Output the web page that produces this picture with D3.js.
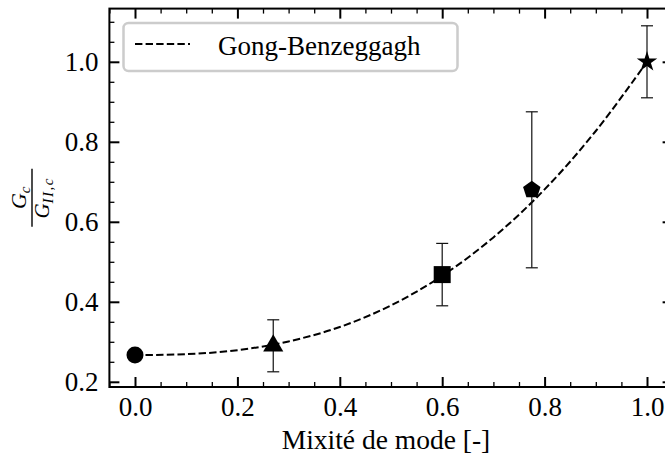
<!DOCTYPE html>
<html lang="fr">
<head>
<meta charset="UTF-8">
<title>Gong-Benzeggagh</title>
<style>
  html, body { margin: 0; padding: 0; background: #fff; overflow: hidden; }
  svg text { font-family: "Liberation Serif", "DejaVu Serif", serif; fill: #000; }
</style>
</head>
<body>
<svg id="chart" width="665" height="454"></svg>
<script src="https://cdn.jsdelivr.net/npm/d3@7"></script>
<script>
const mixite = [0.0, 0.27, 0.6, 0.775, 1.0];
const ratio = [0.267, 0.29, 0.468, 0.68, 1.0];
const erreur = [0, 0.065, 0.078, 0.195, 0.09];
const marqueurs = ["circle", "triangle", "square", "pentagon", "star"];

// courbe Gong-Benzeggagh
const gbX = [0.0, 0.1, 0.2, 0.3, 0.4, 0.5, 0.6, 0.7, 0.8, 0.9, 1.0];
const gbY = [0.267, 0.269, 0.279, 0.301, 0.337, 0.391, 0.465, 0.561, 0.681, 0.827, 1.0];

const xTicks = [0.0, 0.2, 0.4, 0.6, 0.8, 1.0];
const xMinor = [-0.05, 0.05, 0.1, 0.15, 0.25, 0.3, 0.35, 0.45, 0.5, 0.55, 0.65, 0.7, 0.75, 0.85, 0.9, 0.95, 1.05];
const yTicks = [0.2, 0.4, 0.6, 0.8, 1.0];
const yMinor = [0.25, 0.3, 0.35, 0.45, 0.5, 0.55, 0.65, 0.7, 0.75, 0.85, 0.9, 0.95, 1.05, 1.1];

const bordG = 109.4, bordD = 672.6, bordH = 8.6, bordB = 387;
const svg = d3.select("#chart");

const x = d3.scaleLinear().domain([-0.05, 1.05]).range([bordG, bordD]);
const y = d3.scaleLinear().domain([0.187, 1.133]).range([bordB, bordH]);

// axes (ticks vers l'intérieur, sur les 4 côtés)
function axe(gen, scale, values, size, fmt, tr, pad) {
    const g = svg.append("g").attr("transform", tr)
        .call(gen(scale).tickValues(values).tickSize(-size).tickSizeOuter(0)
            .tickPadding(pad || 3).tickFormat(fmt || ""));
    g.select(".domain").remove();
    g.selectAll(".tick line").attr("stroke", "#000").attr("stroke-width", size > 6 ? 2 : 1.3);
    g.selectAll(".tick text").style("font-size", "27px");
    return g;
}
const f = d3.format(".1f");
axe(d3.axisBottom, x, xTicks, 10, f, `translate(0,${bordB})`, 10);
axe(d3.axisBottom, x, xMinor, 5, null, `translate(0,${bordB})`);
axe(d3.axisTop, x, xTicks, 10, null, `translate(0,${bordH})`);
axe(d3.axisTop, x, xMinor, 5, null, `translate(0,${bordH})`);
axe(d3.axisLeft, y, yTicks, 10, f, `translate(${bordG},0)`, 11);
axe(d3.axisLeft, y, yMinor, 5, null, `translate(${bordG},0)`);
axe(d3.axisRight, y, yTicks, 10, null, `translate(${bordD},0)`);
axe(d3.axisRight, y, yMinor, 5, null, `translate(${bordD},0)`);

svg.append("rect")
    .attr("x", bordG).attr("y", bordH)
    .attr("width", bordD - bordG).attr("height", bordB - bordH)
    .attr("fill", "none").attr("stroke", "#000").attr("stroke-width", 2);

// courbe
const line = d3.line().x((d, i) => x(gbX[i])).y(d => y(d)).curve(d3.curveCatmullRom);
svg.append("path")
    .attr("d", line(gbY))
    .attr("fill", "none").attr("stroke", "#000")
    .attr("stroke-width", 2).attr("stroke-dasharray", "7.4,3.2");

// barres d'erreur
const eb = svg.append("g").attr("stroke", "#111").attr("stroke-width", 1.2);
mixite.forEach((m, i) => {
    if (!erreur[i]) return;
    const cx = x(m), y0 = y(ratio[i] - erreur[i]), y1 = y(ratio[i] + erreur[i]);
    eb.append("line").attr("x1", cx).attr("x2", cx).attr("y1", y0).attr("y2", y1);
    eb.append("line").attr("x1", cx - 6).attr("x2", cx + 6).attr("y1", y0).attr("y2", y0);
    eb.append("line").attr("x1", cx - 6).attr("x2", cx + 6).attr("y1", y1).attr("y2", y1);
});

// pentagone
const symbolPentagon = {
    draw(ctx, size) {
        const r = Math.sqrt(size / 2.3776);
        for (let k = 0; k < 5; k++) {
            const a = -Math.PI / 2 + k * 2 * Math.PI / 5;
            k ? ctx.lineTo(r * Math.cos(a), r * Math.sin(a)) : ctx.moveTo(r * Math.cos(a), r * Math.sin(a));
        }
        ctx.closePath();
    }
};
const types = {
    circle: [d3.symbolCircle, 227],
    triangle: [d3.symbolTriangle, 175],
    square: [d3.symbolSquare, 289],
    pentagon: [symbolPentagon, 200],
    star: [d3.symbolStar, 130]
};
svg.append("g").selectAll("path")
    .data(mixite)
    .join("path")
    .attr("transform", (d, i) => `translate(${x(d)},${y(ratio[i])})`)
    .attr("d", (d, i) => d3.symbol(types[marqueurs[i]][0], types[marqueurs[i]][1])())
    .attr("fill", "#000");

// légende
const lg = svg.append("g");
lg.append("rect")
    .attr("x", 123.5).attr("y", 23).attr("width", 334).attr("height", 48)
    .attr("rx", 5).attr("fill", "#fff").attr("fill-opacity", 0.8)
    .attr("stroke", "#ccc").attr("stroke-width", 2.5);
lg.append("line")
    .attr("x1", 135).attr("x2", 190).attr("y1", 44).attr("y2", 44)
    .attr("stroke", "#000").attr("stroke-width", 2).attr("stroke-dasharray", "7.4,3.2");
lg.append("text").attr("x", 218).attr("y", 55).style("font-size", "27px").text("Gong-Benzeggagh");

// titres des axes
svg.append("text")
    .attr("x", (bordG + bordD) / 2 - 5).attr("y", 449)
    .attr("text-anchor", "middle").style("font-size", "27.5px")
    .text("Mixité de mode [-]");

const yl = svg.append("g").attr("transform", `translate(32,${(bordH + bordB) / 2})rotate(-90)`);
yl.append("line").attr("x1", -29).attr("x2", 29).attr("y1", 0).attr("y2", 0)
    .attr("stroke", "#000").attr("stroke-width", 1.4);
const num = yl.append("text").attr("text-anchor", "middle").attr("y", -6)
    .style("font-size", "22px").style("font-style", "italic");
num.append("tspan").text("G");
num.append("tspan").attr("dy", 4).style("font-size", "15px").text("c");
const den = yl.append("text").attr("text-anchor", "middle").attr("y", 17)
    .style("font-size", "21px").style("font-style", "italic");
den.append("tspan").text("G");
den.append("tspan").attr("dy", 4).style("font-size", "15px").attr("letter-spacing", "1.5px").text("II,c");
</script>
</body>
</html>
